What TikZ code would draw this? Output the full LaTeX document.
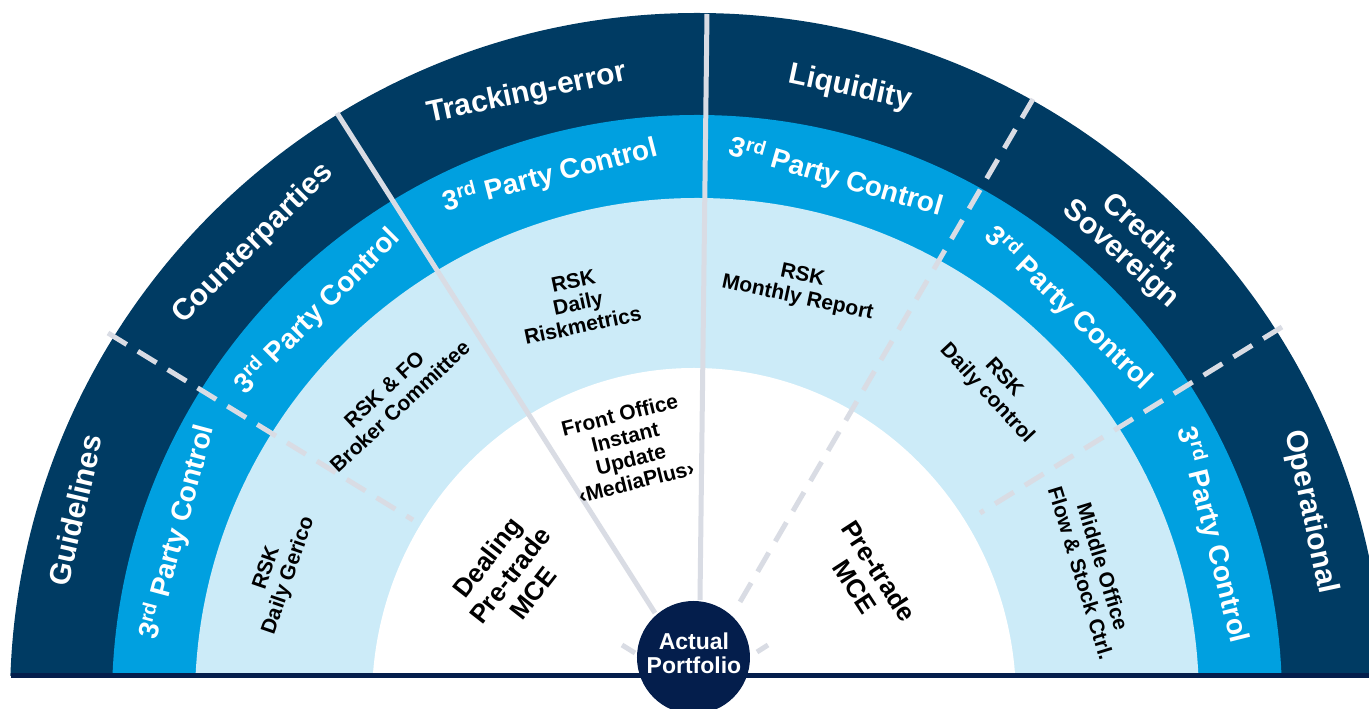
\documentclass[tikz,border=0pt]{standalone}
\usepackage{fontspec}
\setmainfont{Liberation Sans}
\definecolor{navyband}{HTML}{003B63}
\definecolor{cyanband}{HTML}{00A0E0}
\definecolor{paleband}{HTML}{CCEBF8}
\definecolor{portnavy}{HTML}{041E4C}
\definecolor{sepgray}{HTML}{D9DCE4}
\begin{document}
\begin{tikzpicture}[x=1pt,y=1pt]
	\useasboundingbox (-697,-9)rectangle(672,700);
	\clip (-697,-9)rectangle(672,700);
	\tikzset{sep/.style={draw=sepgray,line width=5pt},
	sepdash/.style={sep,dash pattern=on 22pt off 13pt},
	band/.style={white,font=\fontsize{30}{31}\selectfont\bfseries,align=center},
	ctrl/.style={white,font=\fontsize{28}{30}\selectfont\bfseries},
	task/.style={black,font=\fontsize{21}{23}\selectfont\bfseries,align=center},
	mce/.style={black,font=\fontsize{26}{29}\selectfont\bfseries,align=center}}
	\begin{scope}
	\clip (-697,24.5)rectangle(672,700);
	\fill[navyband](0,0)circle(687);
	\fill[cyanband](0,0)circle(585);
	\fill[paleband](0,0)circle(502);
	\fill[white](-3,0)ellipse(322 and 332);
	\end{scope}
	\draw[sep](-360,587)--(-42,87);
	\draw[sep](10,686)--(3,100);
	\draw[sepdash](-589,367)--(-284,180) (-75,55)--(-62,47);
	\draw[sepdash](336,601)--(43,98);
	\draw[sepdash](585,373)--(283,187) (71,55)--(60,48);
	\foreach \x/\y/\r/\t [count=\i] in {-622/190/77/Guidelines,-444/456/45/Counterparties,-170/606/12/Tracking-error,153/612/-12/Liquidity,434/457/-42/{Credit,\\Sovereign},613/188/-78/Operational}
	\path(\x,\y)node[band,rotate=\r](risk\i){\t};
	\foreach \x/\y/\r [count=\i] in {-520/168/75,-380/389/45,-147/525/14.5,139/523/-16,372/392/-44,516/165/-76}
	\path(\x,\y)node[ctrl,rotate=\r](ctrl\i){3\textsuperscript{rd} Party Control};
	\foreach \x/\y/\r/\t [count=\i] in {-419/128/71/{RSK\\Daily Gerico},-305/302/43/{RSK \& FO\\Broker Committee},-119/397/12/{RSK\\Daily\\Riskmetrics},103/413/-12/{RSK\\Monthly Report},298/314/-47/{RSK\\Daily control},395/130/-73/{Middle Office\\Flow \& Stock Ctrl.}}
	\path(\x,\y)node[task,rotate=\r](task\i){\t};
	\path(-69,252)node[task,rotate=14](front){Front Office\\Instant\\Update\\‹MediaPlus›}
	(-187,125)node[mce,rotate=52](dealing){Dealing\\Pre-trade\\MCE}
	(170,121)node[mce,rotate=-57](pretrade){Pre-trade\\MCE};
	\draw[portnavy,line width=5pt](-686,24.5)--(672,24.5);
	\fill[portnavy](-3.5,42.5)circle(56.5);
	\path(-3,47)node[white,align=center,font=\fontsize{23}{24}\selectfont\bfseries](port){Actual\\Portfolio};
\end{tikzpicture}
\end{document}
